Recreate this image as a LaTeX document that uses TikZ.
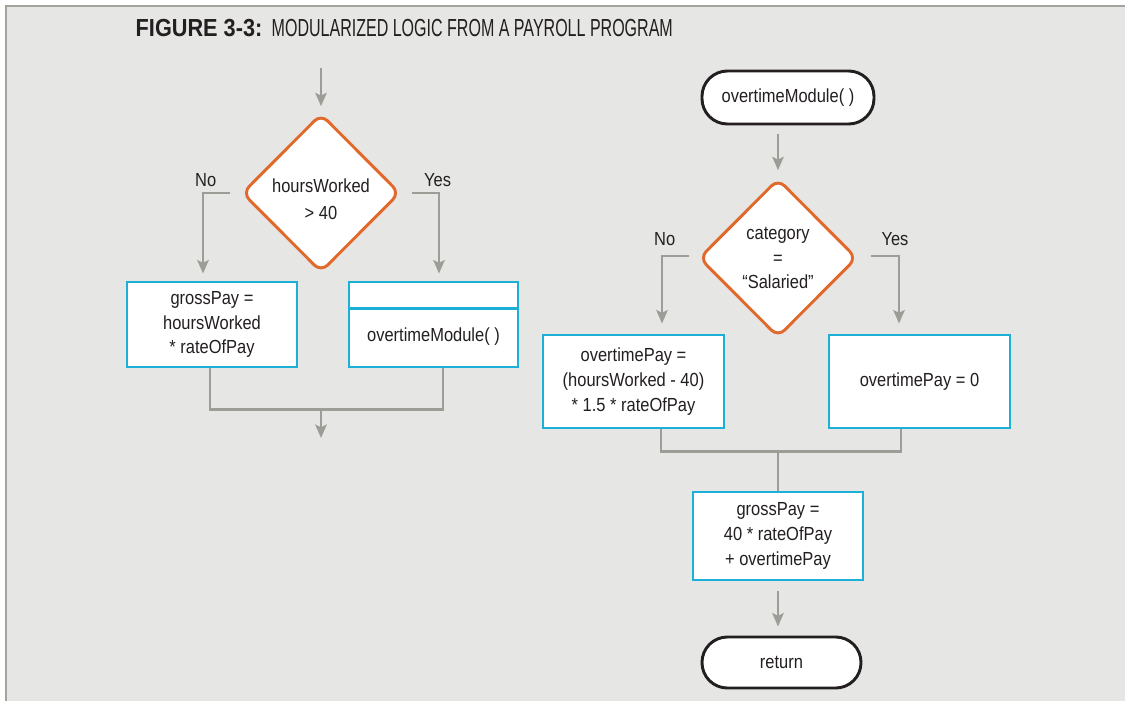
\documentclass[tikz,border=0pt]{standalone}
\usepackage{fontspec}
\setmainfont[FakeStretch=0.87]{Liberation Sans}
\newfontfamily\titlebold[FakeStretch=0.88]{Liberation Sans Bold}
\newfontfamily\titlefont[FakeStretch=0.65]{Liberation Sans}
\usetikzlibrary{shapes.geometric, arrows.meta}
\definecolor{panel}{HTML}{E6E6E4}
\definecolor{rule}{HTML}{A3A39D}
\definecolor{wire}{HTML}{9D9D97}
\definecolor{decide}{HTML}{E0692B}
\definecolor{proc}{HTML}{1DB0D6}
\definecolor{ink}{HTML}{231F20}

\begin{document}
\begin{tikzpicture}[x=0.75pt, y=-0.75pt, font=\fontsize{14.2}{18.5}\selectfont, text=ink,
decision/.style={diamond, draw=decide, fill=white, line width=2.2pt, rounded corners=7pt, minimum width=118.5pt, minimum height=119pt, inner sep=0pt, align=center},
process/.style={rectangle, draw=proc, fill=white, line width=2.2pt, align=center},
terminal/.style={rectangle, draw=ink, fill=white, line width=2.2pt, rounded corners=19pt},
flow/.style={draw=wire, line width=2.2pt, -{Stealth[length=10pt, width=8.5pt, inset=2pt]}}]
\tikzstyle{wire}=[draw=wire, line width=2.2pt]
\def\px{0.75pt}
\useasboundingbox (0,0) rectangle (1125,701);
%panel
\fill[white] (0,0) rectangle (1125,701);
\fill[panel] (6,6) rectangle (1125,701);
\draw[rule, line width=2.2pt] (6,701) -- (6,6) -- (1125,6);
%title
\node[anchor=west, font=\fontsize{18.5}{20}\selectfont] (title) at (131,28) {{\titlebold FIGURE 3-3:}\hspace{7pt}{\titlefont MODULARIZED LOGIC FROM A PAYROLL PROGRAM}};

%main logic
\node[decision] (hw) at (321,193) {};
\node[align=center] (hwtxt) at (321,199) {hoursWorked\\[1.5pt]> 40};
\node[process, minimum width=127.5pt, minimum height=63.75pt] (gross1) at (212,324.5) {grossPay =\\hoursWorked\\* rateOfPay};
\node[process, minimum width=126.75pt, minimum height=63.75pt] (call) at (433.5,324.5) {};
\node (calltxt) at (433.5,337) {overtimeModule( )};
\draw[draw=proc, line width=2.2pt] ([yshift=-21pt]call.north west) -- ([yshift=-21pt]call.north east);
\coordinate (in1) at (321,68);
\coordinate (merge1) at (321,408);
\coordinate (out1) at (321,438);
\draw[flow] (in1) -- ([yshift=6*\px]hw.north);
\draw[flow] ([xshift=-11*\px]hw.west) -| ([xshift=-9*\px, yshift=7*\px]gross1.north) node[pos=0.5, above, xshift=2pt] {No};
\draw[flow] ([xshift=11*\px]hw.east) -| ([xshift=5.5*\px, yshift=7*\px]call.north) node[pos=0.5, above, xshift=-1pt] {Yes};
\draw[wire] ([xshift=-2*\px]gross1.south) -- ++(0,41) -| ([xshift=9.5*\px]call.south);
\draw[flow] (merge1) -- (out1);

%overtime module
\node[terminal, minimum width=129pt, minimum height=39.75pt] (start) at (788,97.5) {overtimeModule( )};
\node[decision] (cat) at (778,258) {category\\=\\“Salaried”};
\node[process, minimum width=135.75pt, minimum height=69.75pt] (otp) at (633.5,381.5) {overtimePay =\\(hoursWorked - 40)\\* 1.5 * rateOfPay};
\node[process, minimum width=135.75pt, minimum height=69.75pt] (otz) at (919.5,381.5) {overtimePay = 0};
\node[process, minimum width=127.5pt, minimum height=66pt] (gross2) at (778,536) {grossPay =\\40 * rateOfPay\\+ overtimePay};
\node[terminal, minimum width=119.25pt, minimum height=38.25pt] (ret) at (781.5,662.5) {return};
\coordinate (merge2) at (778,450);
\draw[flow] ([xshift=-10*\px, yshift=-9*\px]start.south) -- ([yshift=7*\px]cat.north);
\draw[flow] ([xshift=-9*\px, yshift=2*\px]cat.west) -| ([xshift=28.5*\px, yshift=10*\px]otp.north) node[pos=0.5, above, xshift=2pt, yshift=3pt] {No};
\draw[flow] ([xshift=13*\px, yshift=2*\px]cat.east) -| ([xshift=-20.5*\px, yshift=10*\px]otz.north) node[pos=0.5, above, xshift=-3pt, yshift=3pt] {Yes};
\draw[wire] ([xshift=27.5*\px]otp.south) -- ++(0,22) -| ([xshift=-18.5*\px]otz.south);
\draw[wire] (merge2) -- (gross2.north);
\draw[flow] ([yshift=-10*\px]gross2.south) -- ([xshift=-3.5*\px, yshift=9*\px]ret.north);
\end{tikzpicture}
\end{document}
